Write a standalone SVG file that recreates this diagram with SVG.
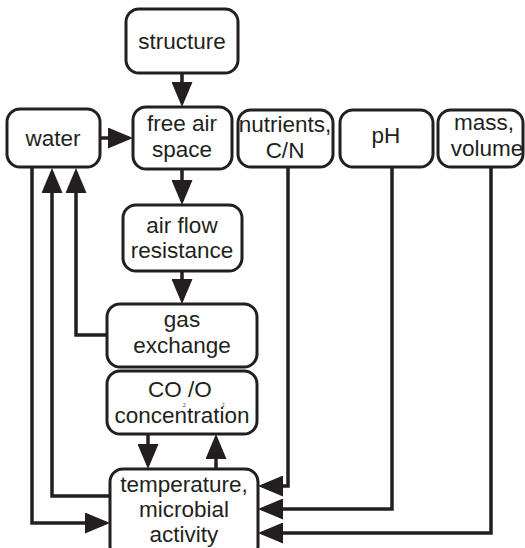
<svg xmlns="http://www.w3.org/2000/svg" width="525" height="548" viewBox="0 0 525 548">
<style>
.box{fill:#fff;stroke:#231f20;stroke-width:3}
.lbl{font-family:"Liberation Sans",Arial,sans-serif;font-size:22.5px;fill:#231f20;text-anchor:middle}
.sub{font-size:4.5px}
.con{fill:none;stroke:#231f20;stroke-width:3.5}
</style>
<defs>
<marker id="ah" viewBox="0 0 25 21" refX="21" refY="10.5" markerWidth="25" markerHeight="21" markerUnits="userSpaceOnUse" orient="auto">
<path d="M0,0 L25,10.5 L0,21 z" fill="#231f20"/>
</marker>
</defs>
<rect width="525" height="548" fill="#fff"/>
<g id="connectors">
<path class="con" d="M182,73 V103" marker-end="url(#ah)"/>
<path class="con" d="M100,138 H129" marker-end="url(#ah)"/>
<path class="con" d="M182,169 V201" marker-end="url(#ah)"/>
<path class="con" d="M182,271 V300" marker-end="url(#ah)"/>
<path class="con" d="M148,434 V465" marker-end="url(#ah)"/>
<path class="con" d="M216,469 V438" marker-end="url(#ah)"/>
<path class="con" d="M32,167 V523 H106" marker-end="url(#ah)"/>
<path class="con" d="M110,496 H52 V172" marker-end="url(#ah)"/>
<path class="con" d="M107,335 H76 V172" marker-end="url(#ah)"/>
<path class="con" d="M288,167 V486 H262" marker-end="url(#ah)"/>
<path class="con" d="M392,167 V509 H262" marker-end="url(#ah)"/>
<path class="con" d="M491,167 V533 H262" marker-end="url(#ah)"/>
</g>
<g id="structure">
<rect class="box" x="126" y="9" width="112" height="64" rx="13"/>
<text class="lbl" x="182" y="49">structure</text>
</g>
<g id="water">
<rect class="box" x="7" y="109" width="93" height="58" rx="13"/>
<text class="lbl" x="53" y="146">water</text>
</g>
<g id="free-air-space">
<rect class="box" x="133" y="107" width="99" height="62" rx="13"/>
<text class="lbl" x="182" y="131">free air</text>
<text class="lbl" x="182" y="157">space</text>
</g>
<g id="nutrients">
<rect class="box" x="238" y="110" width="95" height="57" rx="13"/>
<text class="lbl" x="285" y="132">nutrients,</text>
<text class="lbl" x="285" y="158">C/N</text>
</g>
<g id="ph">
<rect class="box" x="340" y="110" width="93" height="57" rx="13"/>
<text class="lbl" x="386" y="143">pH</text>
</g>
<g id="mass-volume">
<rect class="box" x="438" y="110" width="85" height="57" rx="13"/>
<text class="lbl" x="484" y="130">mass,</text>
<text class="lbl" x="487" y="156">volume</text>
</g>
<g id="air-flow-resistance">
<rect class="box" x="123" y="205" width="119" height="66" rx="13"/>
<text class="lbl" x="182" y="233">air flow</text>
<text class="lbl" x="182" y="258">resistance</text>
</g>
<g id="gas-exchange">
<rect class="box" x="107" y="304" width="150" height="63" rx="13"/>
<text class="lbl" x="182" y="327">gas</text>
<text class="lbl" x="182" y="353">exchange</text>
</g>
<g id="co2-o2">
<rect class="box" x="107" y="371" width="150" height="63" rx="13"/>
<text class="lbl" x="148" y="397" style="text-anchor:start">CO<tspan class="sub" x="183" y="407">2</tspan><tspan x="188" y="397">/O</tspan><tspan class="sub" x="222" y="407">2</tspan></text>
<text class="lbl" x="182" y="423">concentration</text>
</g>
<g id="temperature">
<rect class="box" x="110" y="469" width="148" height="90" rx="13"/>
<text class="lbl" x="184" y="492">temperature,</text>
<text class="lbl" x="184" y="517">microbial</text>
<text class="lbl" x="184" y="542">activity</text>
</g>
</svg>
